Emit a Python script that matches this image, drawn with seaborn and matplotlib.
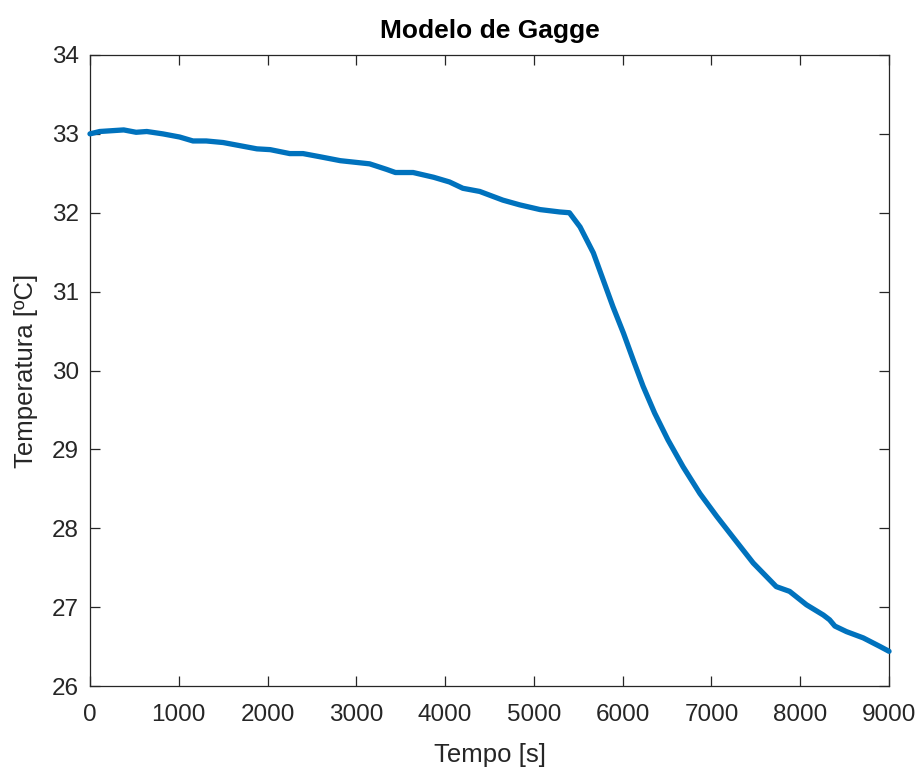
import matplotlib
matplotlib.use("Agg")
import matplotlib.pyplot as plt
import seaborn as sns
import pandas as pd

# Skin temperature predicted by the Gagge two-node model
tempo_s = [0, 110, 380, 520, 640, 820, 1010, 1160, 1310, 1500, 1690, 1880,
           2030, 2250, 2400, 2590, 2820, 3150, 3340, 3440, 3640, 3870, 4050,
           4200, 4390, 4650, 4840, 5070, 5290, 5400, 5520, 5670, 5780, 5890,
           6010, 6120, 6230, 6360, 6510, 6680, 6870, 7060, 7240, 7470, 7730,
           7880, 8070, 8260, 8330, 8390, 8520, 8710, 8900, 9000]
temperatura_c = [33.00, 33.03, 33.05, 33.02, 33.03, 33.00, 32.96, 32.91, 32.91,
                 32.89, 32.85, 32.81, 32.80, 32.75, 32.75, 32.71, 32.66, 32.62,
                 32.55, 32.51, 32.51, 32.45, 32.39, 32.31, 32.27, 32.16, 32.10,
                 32.04, 32.01, 32.00, 31.82, 31.49, 31.15, 30.81, 30.47, 30.13,
                 29.80, 29.46, 29.12, 28.78, 28.44, 28.15, 27.89, 27.56, 27.26,
                 27.20, 27.03, 26.90, 26.84, 26.76, 26.69, 26.61, 26.50, 26.44]

x_ticks = [0, 1000, 2000, 3000, 4000, 5000, 6000, 7000, 8000, 9000]
y_ticks = [26, 27, 28, 29, 30, 31, 32, 33, 34]

df = pd.DataFrame({"Tempo": tempo_s, "Temperatura": temperatura_c})

sns.set_style("white")
plt.rcParams["font.family"] = ["Liberation Sans", "DejaVu Sans"]

fig = plt.figure(figsize=(9.19, 7.69), dpi=100)
ax = fig.add_axes([0.0979, 0.1079, 0.8695, 0.8206])

sns.lineplot(data=df, x="Tempo", y="Temperatura", ax=ax, color="#0072BD",
             linewidth=3.8, solid_joinstyle="round", solid_capstyle="round",
             clip_on=False, zorder=3)

ax.set_xlim(0, 9000)
ax.set_ylim(26, 34)
ax.set_xticks(x_ticks)
ax.set_yticks(y_ticks)
ax.set_xticklabels([str(v) for v in x_ticks])
ax.set_yticklabels([str(v) for v in y_ticks])

for side in ["left", "right", "top", "bottom"]:
    ax.spines[side].set_visible(True)
    ax.spines[side].set_color("#262626")
    ax.spines[side].set_linewidth(0.9)

ax.tick_params(axis="both", which="major", direction="in", length=7,
               width=0.9, color="#262626", labelcolor="#262626",
               labelsize=17.5, top=True, right=True, bottom=True, left=True)
ax.tick_params(axis="x", pad=13)
ax.tick_params(axis="y", pad=8)

ax.set_xlabel("Tempo [s]", fontsize=18.5, color="#262626", labelpad=12)
ax.set_ylabel("Temperatura [ºC]", fontsize=18.5, color="#262626", labelpad=10)
ax.set_title("Modelo de Gagge", fontsize=19, fontweight="bold",
             color="#000000", pad=12)

fig.savefig("out.png", dpi=100, facecolor="white")
